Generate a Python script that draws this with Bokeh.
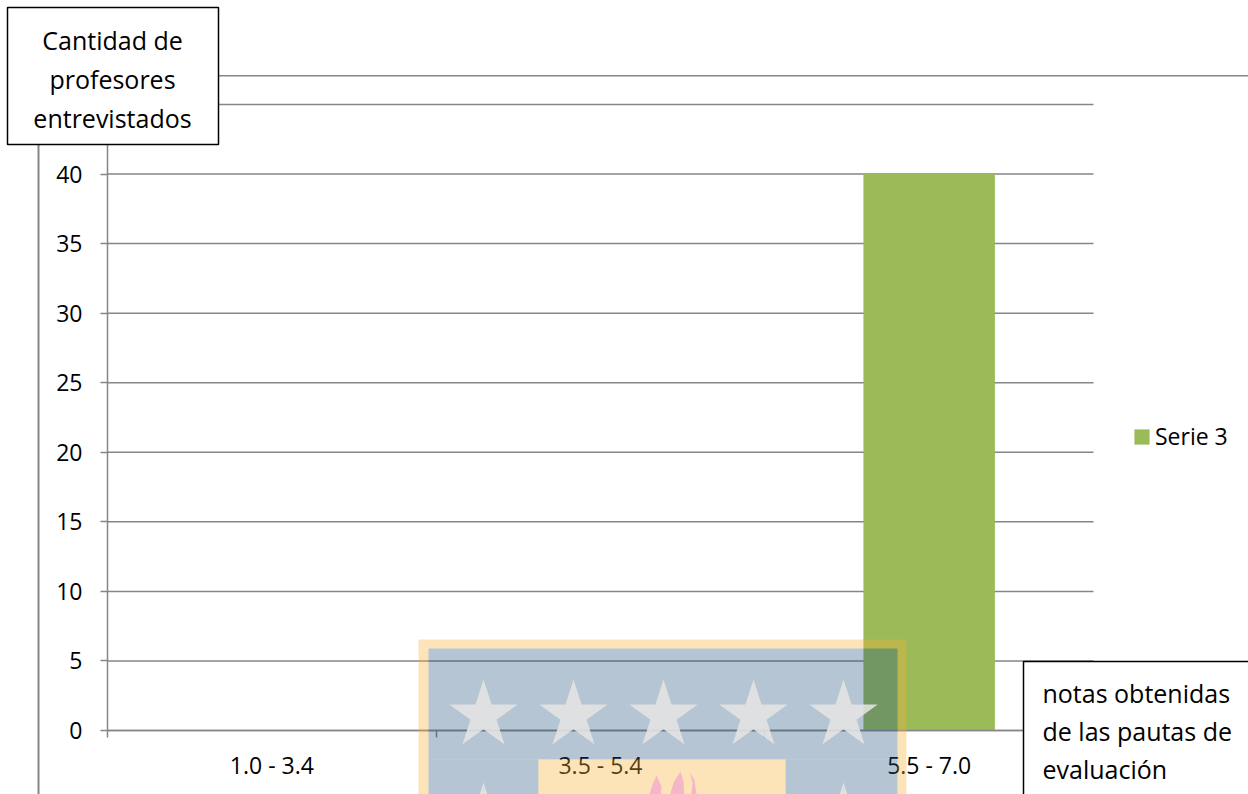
from bokeh.plotting import figure
from bokeh.models import (Range1d, FixedTicker, Legend, LegendItem, BoxAnnotation,
                          Label, ColumnDataSource, LinearAxis)
from bokeh.embed import file_html
from bokeh.resources import INLINE

# ---- data ----
categories = ["1.0 - 3.4", "3.5 - 5.4", "5.5 - 7.0"]
serie3 = [0, 0, 40]
series_name = "Serie 3"
y_ticks = [0, 5, 10, 15, 20, 25, 30, 35, 40, 45]
y_title_lines = ["Cantidad de", "profesores", "entrevistados"]
x_title_lines = ["notas obtenidas", "de las pautas de", "evaluación"]

FONT = "Open Sans"
GRID = "#868686"
BAR = "#9BBB59"

W, H = 1248, 794
# plot area in canvas pixels
PL, PR, PT, PB = 107, 1093, 104, 730
ncat = len(categories)
ymax = y_ticks[-1]
sx = (PR - PL) / ncat
sy = (PB - PT) / ymax
x_range = Range1d(-PL / sx, ncat + (W - PR) / sx)
y_range = Range1d(-(H - PB) / sy, ymax + PT / sy)

xs = [i + 0.5 for i in range(ncat)]
src = ColumnDataSource(dict(x=xs, top=serie3, cat=categories))

p = figure(width=W, height=H, min_border=0, x_range=x_range, y_range=y_range,
           x_axis_location=None, y_axis_location=None,
           output_backend="svg", toolbar_location=None)
p.outline_line_color = None
p.background_fill_color = "white"
p.border_fill_color = "white"
p.grid.visible = False

# horizontal gridlines across the category span
p.segment(x0=[0] * len(y_ticks), x1=[ncat] * len(y_ticks), y0=y_ticks, y1=y_ticks,
          line_color=GRID, line_width=1.5)

bars = p.vbar(x="x", top="top", width=0.4, source=src, fill_color=BAR, line_color=None)

# y axis
ya = LinearAxis(fixed_location=0, bounds=(0, ymax), ticker=FixedTicker(ticks=y_ticks))
ya.axis_line_color = GRID
ya.axis_line_width = 1.5
ya.major_tick_line_color = GRID
ya.major_tick_line_width = 1.5
ya.major_tick_out = 7
ya.major_tick_in = 0
ya.minor_tick_line_color = None
ya.major_label_standoff = 18
ya.major_label_text_font = FONT
ya.major_label_text_font_size = "23px"
ya.major_label_text_color = "black"
p.add_layout(ya, "left")

# x axis: ticks at category boundaries
xa = LinearAxis(fixed_location=0, bounds=(0, ncat), ticker=FixedTicker(ticks=list(range(ncat + 1))))
xa.major_label_text_font_size = "0px"
xa.major_label_text_color = None
xa.axis_line_color = GRID
xa.axis_line_width = 1.5
xa.major_tick_line_color = GRID
xa.major_tick_line_width = 1.5
xa.major_tick_out = 7
xa.major_tick_in = 0
xa.minor_tick_line_color = None
p.add_layout(xa, "below")

# category labels at centres
xa2 = LinearAxis(fixed_location=0, ticker=FixedTicker(ticks=xs),
                 major_label_overrides={x: c for x, c in zip(xs, categories)})
xa2.axis_line_color = None
xa2.major_tick_line_color = None
xa2.major_tick_out = 0
xa2.major_tick_in = 0
xa2.minor_tick_line_color = None
xa2.major_label_standoff = 18
xa2.major_label_text_font = FONT
xa2.major_label_text_font_size = "23px"
xa2.major_label_text_color = "black"
p.add_layout(xa2, "below")

# legend
legend = Legend(items=[LegendItem(label=series_name, renderers=[bars])],
                location=(1132, H - 452), border_line_color=None, background_fill_alpha=0,
                padding=0, margin=0, glyph_width=19, glyph_height=19,
                label_text_font=FONT, label_text_font_size="23px", label_standoff=4,
                label_text_color="black", label_height=19)
p.add_layout(legend, "center")

# ---- decorative page elements (canvas px from top-left) ----
def box(l, r, t, b, fill="white", fill_alpha=1.0, line="black", lw=1.5):
    ba = BoxAnnotation(left=l, right=r, bottom=H - b, top=H - t,
                       left_units="screen", right_units="screen",
                       bottom_units="screen", top_units="screen",
                       fill_color=fill, fill_alpha=fill_alpha,
                       line_color=line, line_alpha=1.0, line_width=lw)
    p.add_layout(ba)
    return ba

# page rules
box(218, 1260, 74.5, 76, fill=GRID, line=None)
box(37, 39, 144, 820, fill=GRID, line=None)

# watermark (semi-transparent logo block)
OR, BL = "#F9B233", "#1F4E79"
box(418, 906, 639, 648, fill=OR, fill_alpha=0.35, line=None)
box(418, 428, 648, 820, fill=OR, fill_alpha=0.35, line=None)
box(897, 906, 648, 820, fill=OR, fill_alpha=0.35, line=None)
box(428, 897, 648, 759, fill=BL, fill_alpha=0.33, line=None)
box(428, 538, 759, 820, fill=BL, fill_alpha=0.33, line=None)
box(785, 897, 759, 820, fill=BL, fill_alpha=0.33, line=None)
box(538, 785, 759, 820, fill=OR, fill_alpha=0.35, line=None)
p.extra_x_ranges = {"px": Range1d(0, W)}
p.extra_y_ranges = {"px": Range1d(H, 0)}
p.scatter(x=[483, 573, 663, 753, 843, 483, 843], y=[715] * 5 + [818] * 2, marker="star",
          size=72, fill_color="#E2E2E2", fill_alpha=0.9, line_color=None,
          x_range_name="px", y_range_name="px", level="overlay")
p.patches(xs=[[656, 652, 647, 660, 661], [680, 673, 668, 684, 683], [689, 694, 697, 690, 692]],
          ys=[[775, 784, 800, 800, 786], [771, 782, 800, 800, 781], [771, 780, 800, 800, 782]],
          fill_color="#F4B4C8", fill_alpha=0.95, line_color=None,
          x_range_name="px", y_range_name="px", level="overlay")

# title boxes
box(7, 218, 7, 144)
for i, t in enumerate(y_title_lines):
    p.add_layout(Label(x=112, y=H - (39 + 39 * i), x_units="screen", y_units="screen", text=t,
                       text_align="center", text_baseline="middle", text_font=FONT,
                       text_font_size="25px", text_color="black"))
box(1023, 1260, 661, 820)
for i, t in enumerate(x_title_lines):
    p.add_layout(Label(x=1042, y=H - (692 + 38 * i), x_units="screen", y_units="screen", text=t,
                       text_align="left", text_baseline="middle", text_font=FONT,
                       text_font_size="25px", text_color="black"))

with open("out.html", "w") as f:
    f.write(file_html(p, INLINE))
